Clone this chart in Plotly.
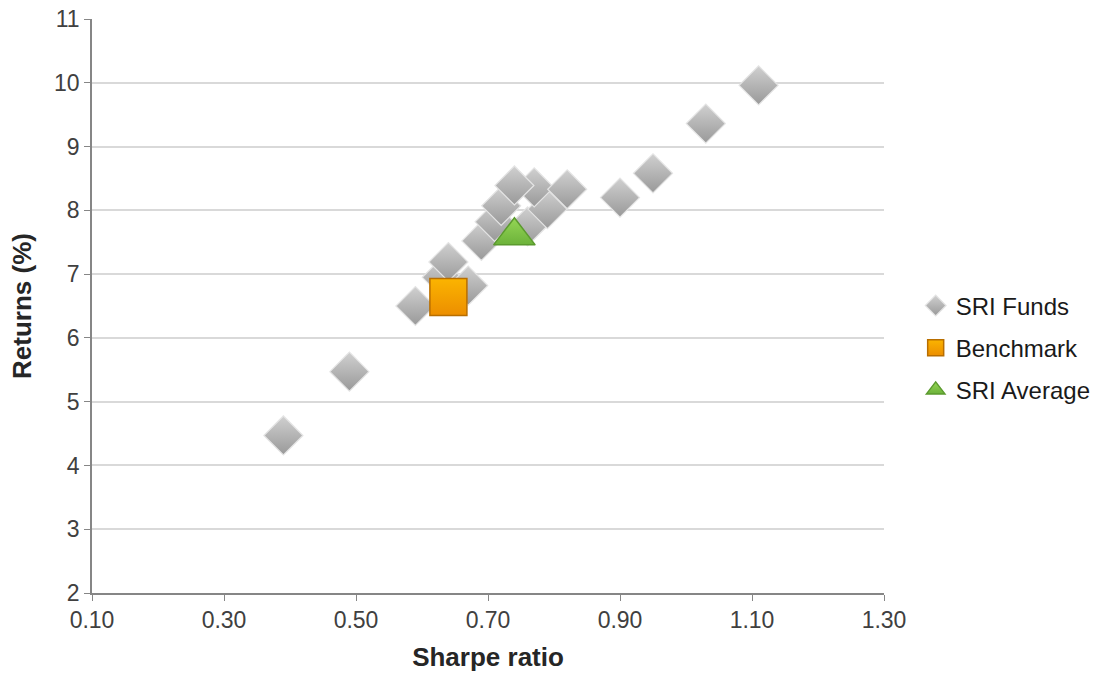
import plotly.graph_objects as go

# Sharpe ratio vs. annual returns for socially responsible investment funds
fund_sharpe = [0.39, 0.49, 0.59, 0.63, 0.67, 0.64, 0.69, 0.71, 0.76, 0.72,
               0.79, 0.77, 0.74, 0.82, 0.90, 0.95, 1.03, 1.11]
fund_returns = [4.47, 5.47, 6.50, 6.95, 6.82, 7.19, 7.52, 7.82, 7.75, 8.07,
                8.02, 8.36, 8.39, 8.33, 8.20, 8.58, 9.36, 9.96]

benchmark_sharpe = [0.64]
benchmark_returns = [6.64]

average_sharpe = [0.74]
average_returns = [7.60]

x_ticks = [0.10, 0.30, 0.50, 0.70, 0.90, 1.10, 1.30]
y_ticks = [2, 3, 4, 5, 6, 7, 8, 9, 10, 11]

FONT = "Liberation Sans, Arial, sans-serif"

fig = go.Figure()

fig.add_trace(go.Scatter(
    x=fund_sharpe, y=fund_returns, mode="markers", name="SRI Funds",
    legendgroup="a",
    marker=dict(symbol="diamond", size=30, color="#d0d0d0",
                gradient=dict(type="vertical", color="#999999"),
                line=dict(color="#e4e4e4", width=1.2)),
))

fig.add_trace(go.Scatter(
    x=benchmark_sharpe, y=benchmark_returns, mode="markers", name="Benchmark",
    legendgroup="b",
    marker=dict(symbol="square", size=37, color="#fbb400",
                gradient=dict(type="vertical", color="#ec8e00"),
                line=dict(color="#b86e00", width=1.5)),
))

fig.add_trace(go.Scatter(
    x=average_sharpe, y=average_returns, mode="markers", name="SRI Average",
    legendgroup="c",
    marker=dict(symbol="triangle-up", size=36, color="#95d655",
                gradient=dict(type="vertical", color="#6cb23a"),
                line=dict(color="#5b9a2e", width=1.5)),
))

fig.update_layout(
    width=1109, height=673,
    margin=dict(l=92, r=225, t=19, b=80),
    paper_bgcolor="white", plot_bgcolor="white",
    font=dict(family=FONT, size=23, color="#404040"),
    legend=dict(x=1.04, y=0.427, xanchor="left", yanchor="middle",
                font=dict(family=FONT, size=24, color="#1a1a1a"),
                traceorder="grouped", tracegroupgap=8,
                itemwidth=30, bgcolor="rgba(0,0,0,0)"),
    xaxis=dict(
        range=[0.10, 1.30], tickvals=x_ticks, tickformat=".2f",
        showgrid=False, zeroline=False, automargin=False,
        showline=True, linecolor="#868686", linewidth=1.5,
        ticks="outside", ticklen=6, tickcolor="#868686",
        tickfont=dict(size=23, color="#404040"),
        title=dict(text="<b>Sharpe ratio</b>",
                   font=dict(size=26, color="#262626")),
    ),
    yaxis=dict(
        range=[2, 11], tickvals=y_ticks,
        showgrid=True, gridcolor="#d9d9d9", gridwidth=1.5, zeroline=False,
        automargin=False,
        showline=True, linecolor="#868686", linewidth=1.5,
        ticks="outside", ticklen=6, tickcolor="#868686",
        tickfont=dict(size=23, color="#404040"),
        title=dict(text="<b>Returns (%)</b>",
                   font=dict(size=26, color="#262626")),
    ),
)

fig.write_html("out.html")
